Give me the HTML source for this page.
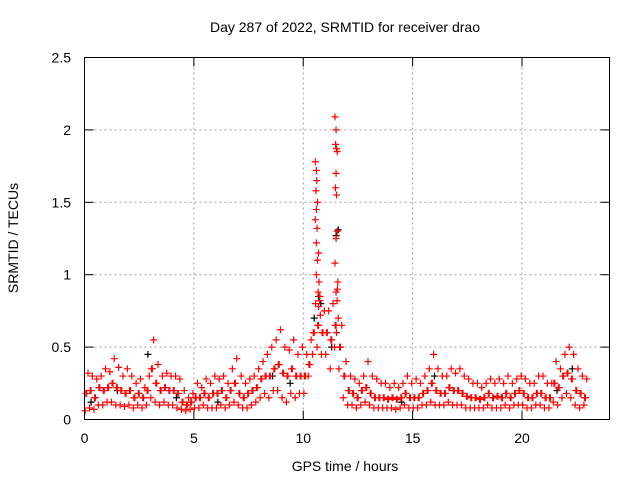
<!DOCTYPE html>
<html><head><meta charset="utf-8"><style>
body{margin:0;background:#fff}
svg{display:block;font-family:"Liberation Sans",sans-serif}
</style></head><body>
<svg id="chart" width="640" height="480">
<text x="345" y="32" text-anchor="middle" font-size="14">Day 287 of 2022, SRMTID for receiver drao</text>
<text x="345" y="471" text-anchor="middle" font-size="14">GPS time / hours</text>
<text transform="translate(18,238) rotate(-90)" text-anchor="middle" font-size="14">SRMTID / TECUs</text>
<g id="grid"></g><g id="ticks"></g><g id="marks"></g>
<rect x="84.5" y="57.5" width="525" height="362" fill="none" stroke="#000"/>
</svg>
<script>
const xTicks=[0,5,10,15,20];
const yTicks=[0,0.5,1,1.5,2,2.5];
const yTickLabels=["0","0.5","1","1.5","2","2.5"];
const binStart=0, binStep=0.2;
const hiVals=[0.32,0.3,0.28,0.3,0.35,0.33,0.42,0.36,0.3,0.35,
0.3,0.25,0.28,0.22,0.3,0.55,0.38,0.3,0.32,0.3,
0.3,0.28,0.2,0.15,0.18,0.25,0.22,0.28,0.25,0.3,
0.28,0.3,0.25,0.35,0.42,0.3,0.25,0.28,0.3,0.35,
0.4,0.45,0.5,0.55,0.62,0.5,0.48,0.55,0.45,0.5,
0.45,0.55,0.8,0.85,0.75,0.75,0.8,0.9,0.65,0.4,
0.3,0.28,0.25,0.3,0.4,0.3,0.28,0.25,0.25,0.22,
0.25,0.22,0.25,0.3,0.25,0.28,0.25,0.3,0.35,0.45,
0.35,0.3,0.3,0.35,0.32,0.35,0.3,0.28,0.25,0.25,
0.22,0.25,0.28,0.25,0.28,0.25,0.3,0.25,0.28,0.3,
0.28,0.25,0.25,0.3,0.3,0.25,0.25,0.4,0.35,0.45,
0.5,0.45,0.35,0.3,0.28];
const midVals=[0.18,0.2,0.15,0.22,0.2,0.22,0.25,0.22,0.2,0.18,
0.2,0.15,0.18,0.15,0.2,0.35,0.25,0.2,0.22,0.2,
0.2,0.18,0.12,0.1,0.12,0.15,0.15,0.18,0.15,0.18,
0.18,0.2,0.15,0.2,0.25,0.18,0.15,0.18,0.2,0.22,
0.28,0.3,0.3,0.35,0.38,0.32,0.3,0.35,0.3,0.3,
0.3,0.38,0.6,0.65,0.6,0.6,0.55,0.65,0.5,0.3,
0.2,0.18,0.15,0.2,0.22,0.18,0.15,0.15,0.15,0.14,
0.15,0.14,0.15,0.18,0.15,0.15,0.15,0.18,0.2,0.25,
0.2,0.18,0.18,0.22,0.2,0.2,0.18,0.16,0.15,0.15,
0.14,0.15,0.18,0.15,0.16,0.15,0.18,0.15,0.18,0.2,
0.18,0.15,0.15,0.18,0.18,0.15,0.15,0.25,0.22,0.3,
0.32,0.28,0.2,0.18,0.15];
const loVals=[0.06,0.08,0.07,0.1,0.1,0.12,0.12,0.1,0.1,0.09,
0.1,0.08,0.1,0.08,0.1,0.15,0.12,0.1,0.12,0.1,
0.1,0.08,0.07,0.06,0.07,0.08,0.08,0.1,0.08,0.08,
0.08,0.1,0.08,0.1,0.12,0.1,0.08,0.08,0.1,0.12,
0.15,0.18,0.15,0.2,0.2,0.15,0.12,0.18,0.15,0.18,
0.18,0.3,0.45,0.5,0.45,0.45,0.35,0.5,0.35,0.15,
0.1,0.1,0.08,0.1,0.12,0.1,0.08,0.08,0.08,0.08,
0.08,0.07,0.08,0.1,0.08,0.08,0.08,0.1,0.1,0.12,
0.1,0.1,0.1,0.12,0.1,0.1,0.1,0.08,0.08,0.08,
0.08,0.08,0.1,0.08,0.08,0.08,0.1,0.08,0.1,0.1,
0.1,0.08,0.08,0.1,0.1,0.08,0.08,0.12,0.1,0.15,
0.18,0.15,0.1,0.08,0.1];
const spikeHours=[10.55,10.6,10.62,10.58,10.65,10.6,10.55,10.63,10.6,10.7,10.65,10.6,10.72,10.68,10.75,10.7,10.78,
11.45,11.5,11.48,11.52,11.55,11.5,11.47,11.52,11.55,11.5,11.45,11.58,11.5,11.55,11.6,11.52];
const spikeVals=[1.78,1.72,1.65,1.58,1.5,1.45,1.38,1.32,1.22,1.15,1.1,1.0,0.95,0.88,0.82,0.78,0.72,
2.09,2.0,1.9,1.87,1.85,1.7,1.6,1.55,1.3,1.25,1.08,0.95,0.88,0.82,0.7,0.6];
const blackHours=[0.3,1.5,2.9,4.2,6.1,8.6,9.4,10.5,10.7,10.8,11.5,11.6,11.3,12.5,14.5,16.0,17.3,19.1,21.6,22.3];
const blackVals=[0.12,0.2,0.45,0.15,0.12,0.3,0.25,0.7,0.85,0.8,1.27,1.31,0.5,0.15,0.12,0.3,0.18,0.15,0.2,0.35];

const NS="http://www.w3.org/2000/svg";
const X=h=>84.5+h*(525/24);
const Y=v=>419.5-v*(362/2.5);
function mk(tag,attrs,parent){const e=document.createElementNS(NS,tag);for(const k in attrs)e.setAttribute(k,attrs[k]);parent.appendChild(e);return e;}
const grid=document.getElementById('grid'),ticks=document.getElementById('ticks'),marks=document.getElementById('marks');
xTicks.forEach(t=>{
  const x=X(t);
  if(t>0){const g=mk('line',{x1:x,x2:x,y1:57.5,y2:419.5,stroke:'#a0a0a0','stroke-dasharray':'2,3'},grid);
  
  }
  mk('line',{x1:x,x2:x,y1:419.5,y2:410.5,stroke:'#000'},ticks);
  mk('line',{x1:x,x2:x,y1:57.5,y2:66.5,stroke:'#000'},ticks);
  const l=mk('text',{x:x,y:443,'text-anchor':'middle','font-size':14},ticks);l.textContent=t;
  
  
});
yTicks.forEach((t,i)=>{
  const y=Y(t);
  if(t>0&&t<2.5){const g=mk('line',{x1:84.5,x2:609.5,y1:y,y2:y,stroke:'#a0a0a0','stroke-dasharray':'2,3'},grid);
  
  }
  mk('line',{x1:84.5,x2:93.5,y1:y,y2:y,stroke:'#000'},ticks);
  mk('line',{x1:609.5,x2:600.5,y1:y,y2:y,stroke:'#000'},ticks);
  const l=mk('text',{x:71,y:y+5,'text-anchor':'end','font-size':14},ticks);l.textContent=yTickLabels[i];
  
  
});
function plus(h,v,color,name){
  const x=X(h),y=Y(v);
  const p=mk('path',{d:`M${x-3.5},${y}h7M${x},${y-3.5}v7`,stroke:color,'stroke-width':1.2,fill:'none'},marks);
  
  
}
blackHours.forEach((h,i)=>plus(h,blackVals[i],'#000','black-point'));
hiVals.forEach((v,i)=>{
  const t=binStart+i*binStep;
  plus(t+0.03,loVals[i],'#f00','red-point');
  plus(t+0.1,midVals[i],'#f00','red-point');
  plus(t+0.16,v,'#f00','red-point');
  plus(t+0.06,(midVals[i]),'#f00','red-point');
});
spikeHours.forEach((h,i)=>plus(h,spikeVals[i],'#f00','red-spike-point'));
</script>
</body></html>
